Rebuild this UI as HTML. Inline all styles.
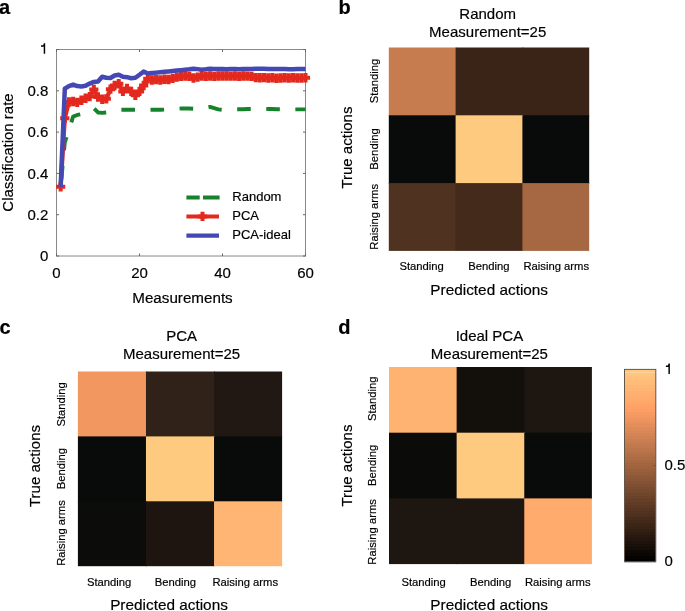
<!DOCTYPE html>
<html><head><meta charset="utf-8"><style>
html,body{margin:0;padding:0;background:#fff;overflow:hidden;width:685px;height:611px}
svg{display:block;will-change:transform}
text{font-family:"Liberation Sans",sans-serif;fill:#000;stroke:#000;stroke-width:0.18px}
.lab{font-weight:bold;font-size:20px;fill:#000}
.tk{font-size:15px}
.ax{font-size:15px}
.lg{font-size:13px}
.sm{font-size:11.25px}
</style></head><body>
<svg width="685" height="611" viewBox="0 0 685 611">
<rect width="685" height="611" fill="#fff"/>
<text x="-1.0" y="14" class="lab">a</text>
<rect x="56.5" y="49.5" width="249.0" height="206.5" fill="none" stroke="#888888" stroke-width="1"/>
<path d="M56.5,256.00h2.5M305.5,256.00h-2.5M56.5,214.70h2.5M305.5,214.70h-2.5M56.5,173.40h2.5M305.5,173.40h-2.5M56.5,132.10h2.5M305.5,132.10h-2.5M56.5,90.80h2.5M305.5,90.80h-2.5M56.5,49.50h2.5M305.5,49.50h-2.5M56.50,256.0v-2.5M56.50,49.5v2.5M139.50,256.0v-2.5M139.50,49.5v2.5M222.50,256.0v-2.5M222.50,49.5v2.5M305.50,256.0v-2.5M305.50,49.5v2.5" stroke="#666666" stroke-width="1" fill="none"/>
<text x="48.3" y="261.20" class="tk" text-anchor="end">0</text>
<text x="48.3" y="219.90" class="tk" text-anchor="end">0.2</text>
<text x="48.3" y="178.60" class="tk" text-anchor="end">0.4</text>
<text x="48.3" y="137.30" class="tk" text-anchor="end">0.6</text>
<text x="48.3" y="96.00" class="tk" text-anchor="end">0.8</text>
<path d="M44.45,43.30V53.80M41.00,45.90H43.25Q44.15,45.60 44.45,43.50" stroke="#000" stroke-width="1.45" fill="none"/>
<text x="56.50" y="278.2" class="tk" text-anchor="middle">0</text>
<text x="139.50" y="278.2" class="tk" text-anchor="middle">20</text>
<text x="222.50" y="278.2" class="tk" text-anchor="middle">40</text>
<text x="305.50" y="278.2" class="tk" text-anchor="middle">60</text>
<text transform="translate(13.2,152.5) rotate(-90)" class="ax" text-anchor="middle">Classification rate</text>
<text x="182.5" y="302.7" class="ax" style="font-size:15.2px" text-anchor="middle">Measurements</text>
<path d="M60.65,186.82 L64.80,142.43 L68.95,130.03 L73.10,116.61 L77.25,114.96 L81.40,114.13 L85.55,111.45 L89.70,110.42 L93.85,108.35 L98.00,112.48 L102.15,112.90 L106.30,112.48 L110.45,111.45 L114.60,110.42 L118.75,109.80 L122.90,109.80 L127.05,109.80 L131.20,109.80 L135.35,109.80 L139.50,109.80 L143.65,109.80 L147.80,109.80 L151.95,109.80 L156.10,109.80 L160.25,109.80 L164.40,109.59 L168.55,109.39 L172.70,108.97 L176.85,108.77 L181.00,108.56 L185.15,108.56 L189.30,108.56 L193.45,108.77 L197.60,108.97 L201.75,108.56 L205.90,107.73 L210.05,106.91 L214.20,108.15 L218.35,109.39 L222.50,109.80 L226.65,109.59 L230.80,109.39 L234.95,109.18 L239.10,109.18 L243.25,109.18 L247.40,108.97 L251.55,108.97 L255.70,108.77 L259.85,108.77 L264.00,108.77 L268.15,108.97 L272.30,108.97 L276.45,109.18 L280.60,109.18 L284.75,109.39 L288.90,109.39 L293.05,109.39 L297.20,109.39 L301.35,109.39 L305.50,109.39" stroke="#17822c" stroke-width="3.9" fill="none" stroke-dasharray="13.6 15.5" stroke-dashoffset="21.65" stroke-linejoin="round"/>
<path d="M60.65,186.82 L64.80,118.26 L68.95,101.95 L73.10,101.54 L77.25,102.36 L81.40,100.30 L85.55,98.23 L89.70,96.58 L93.85,89.56 L98.00,97.00 L102.15,99.27 L106.30,98.85 L110.45,89.15 L114.60,85.43 L118.75,83.78 L122.90,91.42 L127.05,88.53 L131.20,91.42 L135.35,95.34 L139.50,91.42 L143.65,85.43 L147.80,78.82 L151.95,80.06 L156.10,79.44 L160.25,80.06 L164.40,79.24 L168.55,79.44 L172.70,78.41 L176.85,77.17 L181.00,76.34 L185.15,76.14 L189.30,76.34 L193.45,78.00 L197.60,77.17 L201.75,75.93 L205.90,76.34 L210.05,75.93 L214.20,76.34 L218.35,75.93 L222.50,75.93 L226.65,75.93 L230.80,76.14 L234.95,75.93 L239.10,76.34 L243.25,75.93 L247.40,76.14 L251.55,76.34 L255.70,77.58 L259.85,77.79 L264.00,77.58 L268.15,78.00 L272.30,77.79 L276.45,78.20 L280.60,78.00 L284.75,77.79 L288.90,78.00 L293.05,77.79 L297.20,78.00 L301.35,78.00 L305.50,77.79" stroke="#e3281e" stroke-width="4.2" fill="none" stroke-linejoin="round"/>
<path d="M56.05,186.82h9.2M60.65,182.12v9.4M60.20,118.26h9.2M64.80,113.56v9.4M64.35,101.95h9.2M68.95,97.25v9.4M68.50,101.54h9.2M73.10,96.84v9.4M72.65,102.36h9.2M77.25,97.66v9.4M76.80,100.30h9.2M81.40,95.60v9.4M80.95,98.23h9.2M85.55,93.53v9.4M85.10,96.58h9.2M89.70,91.88v9.4M89.25,89.56h9.2M93.85,84.86v9.4M93.40,97.00h9.2M98.00,92.30v9.4M97.55,99.27h9.2M102.15,94.57v9.4M101.70,98.85h9.2M106.30,94.15v9.4M105.85,89.15h9.2M110.45,84.45v9.4M110.00,85.43h9.2M114.60,80.73v9.4M114.15,83.78h9.2M118.75,79.08v9.4M118.30,91.42h9.2M122.90,86.72v9.4M122.45,88.53h9.2M127.05,83.83v9.4M126.60,91.42h9.2M131.20,86.72v9.4M130.75,95.34h9.2M135.35,90.64v9.4M134.90,91.42h9.2M139.50,86.72v9.4M139.05,85.43h9.2M143.65,80.73v9.4M143.20,78.82h9.2M147.80,74.12v9.4M147.35,80.06h9.2M151.95,75.36v9.4M151.50,79.44h9.2M156.10,74.74v9.4M155.65,80.06h9.2M160.25,75.36v9.4M159.80,79.24h9.2M164.40,74.54v9.4M163.95,79.44h9.2M168.55,74.74v9.4M168.10,78.41h9.2M172.70,73.71v9.4M172.25,77.17h9.2M176.85,72.47v9.4M176.40,76.34h9.2M181.00,71.64v9.4M180.55,76.14h9.2M185.15,71.44v9.4M184.70,76.34h9.2M189.30,71.64v9.4M188.85,78.00h9.2M193.45,73.30v9.4M193.00,77.17h9.2M197.60,72.47v9.4M197.15,75.93h9.2M201.75,71.23v9.4M201.30,76.34h9.2M205.90,71.64v9.4M205.45,75.93h9.2M210.05,71.23v9.4M209.60,76.34h9.2M214.20,71.64v9.4M213.75,75.93h9.2M218.35,71.23v9.4M217.90,75.93h9.2M222.50,71.23v9.4M222.05,75.93h9.2M226.65,71.23v9.4M226.20,76.14h9.2M230.80,71.44v9.4M230.35,75.93h9.2M234.95,71.23v9.4M234.50,76.34h9.2M239.10,71.64v9.4M238.65,75.93h9.2M243.25,71.23v9.4M242.80,76.14h9.2M247.40,71.44v9.4M246.95,76.34h9.2M251.55,71.64v9.4M251.10,77.58h9.2M255.70,72.88v9.4M255.25,77.79h9.2M259.85,73.09v9.4M259.40,77.58h9.2M264.00,72.88v9.4M263.55,78.00h9.2M268.15,73.30v9.4M267.70,77.79h9.2M272.30,73.09v9.4M271.85,78.20h9.2M276.45,73.50v9.4M276.00,78.00h9.2M280.60,73.30v9.4M280.15,77.79h9.2M284.75,73.09v9.4M284.30,78.00h9.2M288.90,73.30v9.4M288.45,77.79h9.2M293.05,73.09v9.4M292.60,78.00h9.2M297.20,73.30v9.4M296.75,78.00h9.2M301.35,73.30v9.4M300.90,77.79h9.2M305.50,73.09v9.4" stroke="#e3281e" stroke-width="4" fill="none"/>
<path d="M60.65,186.82 L64.80,88.73 L68.95,86.05 L73.10,84.61 L77.25,86.05 L81.40,86.46 L85.55,85.84 L89.70,83.57 L93.85,81.92 L98.00,81.51 L102.15,76.76 L106.30,77.79 L110.45,78.00 L114.60,75.52 L118.75,74.69 L122.90,76.76 L127.05,77.17 L131.20,78.20 L135.35,77.79 L139.50,74.69 L143.65,71.60 L147.80,73.45 L151.95,73.04 L156.10,72.63 L160.25,72.22 L164.40,71.80 L168.55,71.39 L172.70,70.98 L176.85,70.56 L181.00,70.15 L185.15,69.74 L189.30,69.32 L193.45,68.70 L197.60,69.12 L201.75,69.74 L205.90,69.32 L210.05,68.70 L214.20,68.91 L218.35,69.12 L222.50,69.12 L226.65,69.32 L230.80,69.12 L234.95,69.12 L239.10,69.32 L243.25,69.12 L247.40,68.91 L251.55,68.91 L255.70,68.70 L259.85,68.70 L264.00,68.70 L268.15,68.91 L272.30,69.12 L276.45,69.12 L280.60,69.12 L284.75,69.12 L288.90,69.32 L293.05,69.32 L297.20,69.12 L301.35,69.12 L305.50,69.12" stroke="#4547b2" stroke-width="4.5" fill="none" stroke-linejoin="round"/>
<path d="M186.4,197.6h13.3M203,197.6h16.6" stroke="#17822c" stroke-width="4"/>
<path d="M186.4,216.4h32.6" stroke="#e3281e" stroke-width="4"/>
<path d="M197.9,216.4h9.2M202.5,211.7v9.4" stroke="#e3281e" stroke-width="4"/>
<path d="M186.4,235.6h32.6" stroke="#4547b2" stroke-width="4.1"/>
<text x="232.3" y="201.4" class="lg">Random</text>
<text x="232.3" y="220.2" class="lg">PCA</text>
<text x="232.3" y="239.0" class="lg">PCA-ideal</text>
<text x="338.5" y="14" class="lab">b</text>
<rect x="388.80" y="47.50" width="67.80" height="68.80" fill="rgb(198,124,79)"/>
<rect x="455.60" y="47.50" width="67.80" height="68.80" fill="rgb(57,36,23)"/>
<rect x="522.40" y="47.50" width="66.80" height="68.80" fill="rgb(57,36,23)"/>
<rect x="388.80" y="115.30" width="67.80" height="68.80" fill="#080b0a"/>
<rect x="455.60" y="115.30" width="67.80" height="68.80" fill="rgb(254,202,128)"/>
<rect x="522.40" y="115.30" width="66.80" height="68.80" fill="#080b0a"/>
<rect x="388.80" y="183.10" width="67.80" height="67.80" fill="rgb(80,50,32)"/>
<rect x="455.60" y="183.10" width="67.80" height="67.80" fill="rgb(67,42,27)"/>
<rect x="522.40" y="183.10" width="66.80" height="67.80" fill="rgb(166,104,66)"/>
<text x="487.7" y="19" class="ax" text-anchor="middle">Random</text>
<text x="487.7" y="36.6" class="ax" text-anchor="middle">Measurement=25</text>
<text x="421.60" y="269.9" class="sm" text-anchor="middle">Standing</text>
<text transform="translate(378.0,81.00) rotate(-90)" class="sm" text-anchor="middle">Standing</text>
<text x="488.90" y="269.9" class="sm" text-anchor="middle">Bending</text>
<text transform="translate(378.0,149.00) rotate(-90)" class="sm" text-anchor="middle">Bending</text>
<text x="556.30" y="269.9" class="sm" text-anchor="middle">Raising arms</text>
<text transform="translate(378.0,216.80) rotate(-90)" class="sm" text-anchor="middle">Raising arms</text>
<text x="489.2" y="294.6" class="ax" style="font-size:15.35px" text-anchor="middle">Predicted actions</text>
<text transform="translate(352.0,147.6) rotate(-90)" class="ax" text-anchor="middle">True actions</text>
<text x="-0.5" y="334.2" class="lab">c</text>
<rect x="77.90" y="371.50" width="69.07" height="65.90" fill="rgb(242,151,96)"/>
<rect x="145.97" y="371.50" width="69.07" height="65.90" fill="#302219"/>
<rect x="214.03" y="371.50" width="68.07" height="65.90" fill="#211813"/>
<rect x="77.90" y="436.40" width="69.07" height="65.90" fill="#080b0a"/>
<rect x="145.97" y="436.40" width="69.07" height="65.90" fill="rgb(254,202,128)"/>
<rect x="214.03" y="436.40" width="68.07" height="65.90" fill="#080b0a"/>
<rect x="77.90" y="501.30" width="69.07" height="64.90" fill="#0c0c0a"/>
<rect x="145.97" y="501.30" width="69.07" height="64.90" fill="#1f1510"/>
<rect x="214.03" y="501.30" width="68.07" height="64.90" fill="rgb(255,181,115)"/>
<text x="181.6" y="340.6" class="ax" text-anchor="middle">PCA</text>
<text x="181.6" y="358.8" class="ax" text-anchor="middle">Measurement=25</text>
<text x="109.10" y="586.1" class="sm" text-anchor="middle">Standing</text>
<text transform="translate(65.2,404.40) rotate(-90)" class="sm" text-anchor="middle">Standing</text>
<text x="175.30" y="586.1" class="sm" text-anchor="middle">Bending</text>
<text transform="translate(65.2,468.70) rotate(-90)" class="sm" text-anchor="middle">Bending</text>
<text x="245.30" y="586.1" class="sm" text-anchor="middle">Raising arms</text>
<text transform="translate(65.2,533.00) rotate(-90)" class="sm" text-anchor="middle">Raising arms</text>
<text x="169.0" y="610.3" class="ax" style="font-size:15.35px" text-anchor="middle">Predicted actions</text>
<text transform="translate(40.3,466.0) rotate(-90)" class="ax" text-anchor="middle">True actions</text>
<text x="338.3" y="333.9" class="lab">d</text>
<rect x="389.00" y="367.00" width="68.63" height="66.70" fill="rgb(255,179,114)"/>
<rect x="456.63" y="367.00" width="68.63" height="66.70" fill="#13100c"/>
<rect x="524.27" y="367.00" width="67.63" height="66.70" fill="#1d1611"/>
<rect x="389.00" y="432.70" width="68.63" height="66.70" fill="#0b0b09"/>
<rect x="456.63" y="432.70" width="68.63" height="66.70" fill="rgb(254,202,128)"/>
<rect x="524.27" y="432.70" width="67.63" height="66.70" fill="#080b0a"/>
<rect x="389.00" y="498.40" width="68.63" height="65.70" fill="#1d1611"/>
<rect x="456.63" y="498.40" width="68.63" height="65.70" fill="#1d1611"/>
<rect x="524.27" y="498.40" width="67.63" height="65.70" fill="rgb(255,171,109)"/>
<text x="489.4" y="341.2" class="ax" text-anchor="middle">Ideal PCA</text>
<text x="489.4" y="358.7" class="ax" text-anchor="middle">Measurement=25</text>
<text x="423.60" y="585.6" class="sm" text-anchor="middle">Standing</text>
<text transform="translate(376.0,398.70) rotate(-90)" class="sm" text-anchor="middle">Standing</text>
<text x="490.70" y="585.6" class="sm" text-anchor="middle">Bending</text>
<text transform="translate(376.0,465.30) rotate(-90)" class="sm" text-anchor="middle">Bending</text>
<text x="557.80" y="585.6" class="sm" text-anchor="middle">Raising arms</text>
<text transform="translate(376.0,531.90) rotate(-90)" class="sm" text-anchor="middle">Raising arms</text>
<text x="489.2" y="610.4" class="ax" style="font-size:15.35px" text-anchor="middle">Predicted actions</text>
<text transform="translate(352.1,465.6) rotate(-90)" class="ax" text-anchor="middle">True actions</text>
<defs><linearGradient id="cb" x1="0" y1="1" x2="0" y2="0"><stop offset="0" stop-color="#000"/><stop offset="0.8" stop-color="rgb(255,159,101)"/><stop offset="1" stop-color="rgb(255,199,127)"/></linearGradient></defs>
<rect x="624.5" y="558.60" width="31.3" height="3.60" fill="rgb(0,0,0)"/>
<rect x="624.5" y="555.59" width="31.3" height="3.60" fill="rgb(5,3,2)"/>
<rect x="624.5" y="552.59" width="31.3" height="3.60" fill="rgb(10,6,4)"/>
<rect x="624.5" y="549.59" width="31.3" height="3.60" fill="rgb(15,9,6)"/>
<rect x="624.5" y="546.58" width="31.3" height="3.60" fill="rgb(20,13,8)"/>
<rect x="624.5" y="543.58" width="31.3" height="3.60" fill="rgb(25,16,10)"/>
<rect x="624.5" y="540.58" width="31.3" height="3.60" fill="rgb(30,19,12)"/>
<rect x="624.5" y="537.57" width="31.3" height="3.60" fill="rgb(35,22,14)"/>
<rect x="624.5" y="534.57" width="31.3" height="3.60" fill="rgb(40,25,16)"/>
<rect x="624.5" y="531.57" width="31.3" height="3.60" fill="rgb(46,28,18)"/>
<rect x="624.5" y="528.57" width="31.3" height="3.60" fill="rgb(51,32,20)"/>
<rect x="624.5" y="525.56" width="31.3" height="3.60" fill="rgb(56,35,22)"/>
<rect x="624.5" y="522.56" width="31.3" height="3.60" fill="rgb(61,38,24)"/>
<rect x="624.5" y="519.56" width="31.3" height="3.60" fill="rgb(66,41,26)"/>
<rect x="624.5" y="516.55" width="31.3" height="3.60" fill="rgb(71,44,28)"/>
<rect x="624.5" y="513.55" width="31.3" height="3.60" fill="rgb(76,47,30)"/>
<rect x="624.5" y="510.55" width="31.3" height="3.60" fill="rgb(81,51,32)"/>
<rect x="624.5" y="507.54" width="31.3" height="3.60" fill="rgb(86,54,34)"/>
<rect x="624.5" y="504.54" width="31.3" height="3.60" fill="rgb(91,57,36)"/>
<rect x="624.5" y="501.54" width="31.3" height="3.60" fill="rgb(96,60,38)"/>
<rect x="624.5" y="498.53" width="31.3" height="3.60" fill="rgb(101,63,40)"/>
<rect x="624.5" y="495.53" width="31.3" height="3.60" fill="rgb(106,66,42)"/>
<rect x="624.5" y="492.53" width="31.3" height="3.60" fill="rgb(111,70,44)"/>
<rect x="624.5" y="489.52" width="31.3" height="3.60" fill="rgb(116,73,46)"/>
<rect x="624.5" y="486.52" width="31.3" height="3.60" fill="rgb(121,76,48)"/>
<rect x="624.5" y="483.52" width="31.3" height="3.60" fill="rgb(126,79,50)"/>
<rect x="624.5" y="480.52" width="31.3" height="3.60" fill="rgb(132,82,52)"/>
<rect x="624.5" y="477.51" width="31.3" height="3.60" fill="rgb(137,85,54)"/>
<rect x="624.5" y="474.51" width="31.3" height="3.60" fill="rgb(142,89,56)"/>
<rect x="624.5" y="471.51" width="31.3" height="3.60" fill="rgb(147,92,58)"/>
<rect x="624.5" y="468.50" width="31.3" height="3.60" fill="rgb(152,95,60)"/>
<rect x="624.5" y="465.50" width="31.3" height="3.60" fill="rgb(157,98,62)"/>
<rect x="624.5" y="462.50" width="31.3" height="3.60" fill="rgb(162,101,64)"/>
<rect x="624.5" y="459.49" width="31.3" height="3.60" fill="rgb(167,104,66)"/>
<rect x="624.5" y="456.49" width="31.3" height="3.60" fill="rgb(172,108,68)"/>
<rect x="624.5" y="453.49" width="31.3" height="3.60" fill="rgb(177,111,70)"/>
<rect x="624.5" y="450.48" width="31.3" height="3.60" fill="rgb(182,114,72)"/>
<rect x="624.5" y="447.48" width="31.3" height="3.60" fill="rgb(187,117,75)"/>
<rect x="624.5" y="444.48" width="31.3" height="3.60" fill="rgb(192,120,77)"/>
<rect x="624.5" y="441.47" width="31.3" height="3.60" fill="rgb(197,123,79)"/>
<rect x="624.5" y="438.47" width="31.3" height="3.60" fill="rgb(202,126,81)"/>
<rect x="624.5" y="435.47" width="31.3" height="3.60" fill="rgb(207,130,83)"/>
<rect x="624.5" y="432.47" width="31.3" height="3.60" fill="rgb(212,133,85)"/>
<rect x="624.5" y="429.46" width="31.3" height="3.60" fill="rgb(218,136,87)"/>
<rect x="624.5" y="426.46" width="31.3" height="3.60" fill="rgb(223,139,89)"/>
<rect x="624.5" y="423.46" width="31.3" height="3.60" fill="rgb(228,142,91)"/>
<rect x="624.5" y="420.45" width="31.3" height="3.60" fill="rgb(233,145,93)"/>
<rect x="624.5" y="417.45" width="31.3" height="3.60" fill="rgb(238,149,95)"/>
<rect x="624.5" y="414.45" width="31.3" height="3.60" fill="rgb(243,152,97)"/>
<rect x="624.5" y="411.44" width="31.3" height="3.60" fill="rgb(248,155,99)"/>
<rect x="624.5" y="408.44" width="31.3" height="3.60" fill="rgb(253,158,101)"/>
<rect x="624.5" y="405.44" width="31.3" height="3.60" fill="rgb(255,161,103)"/>
<rect x="624.5" y="402.43" width="31.3" height="3.60" fill="rgb(255,164,105)"/>
<rect x="624.5" y="399.43" width="31.3" height="3.60" fill="rgb(255,168,107)"/>
<rect x="624.5" y="396.43" width="31.3" height="3.60" fill="rgb(255,171,109)"/>
<rect x="624.5" y="393.42" width="31.3" height="3.60" fill="rgb(255,174,111)"/>
<rect x="624.5" y="390.42" width="31.3" height="3.60" fill="rgb(255,177,113)"/>
<rect x="624.5" y="387.42" width="31.3" height="3.60" fill="rgb(255,180,115)"/>
<rect x="624.5" y="384.42" width="31.3" height="3.60" fill="rgb(255,183,117)"/>
<rect x="624.5" y="381.41" width="31.3" height="3.60" fill="rgb(255,187,119)"/>
<rect x="624.5" y="378.41" width="31.3" height="3.60" fill="rgb(255,190,121)"/>
<rect x="624.5" y="375.41" width="31.3" height="3.60" fill="rgb(255,193,123)"/>
<rect x="624.5" y="372.40" width="31.3" height="3.60" fill="rgb(255,196,125)"/>
<rect x="624.5" y="369.40" width="31.3" height="3.00" fill="rgb(255,199,127)"/>
<rect x="624.5" y="369.4" width="31.3" height="192.2" fill="none" stroke="#65564a" stroke-width="1"/>
<path d="M655.8,465.5h-2.5" stroke="#65564a" stroke-width="1"/>
<path d="M669.15,363.60V374.00M665.90,366.20H667.95Q668.85,365.90 669.15,363.80" stroke="#000" stroke-width="1.45" fill="none"/>
<text x="664.5" y="470.3" class="tk">0.5</text>
<text x="664.5" y="565.6" class="tk">0</text>
</svg>
</body></html>
